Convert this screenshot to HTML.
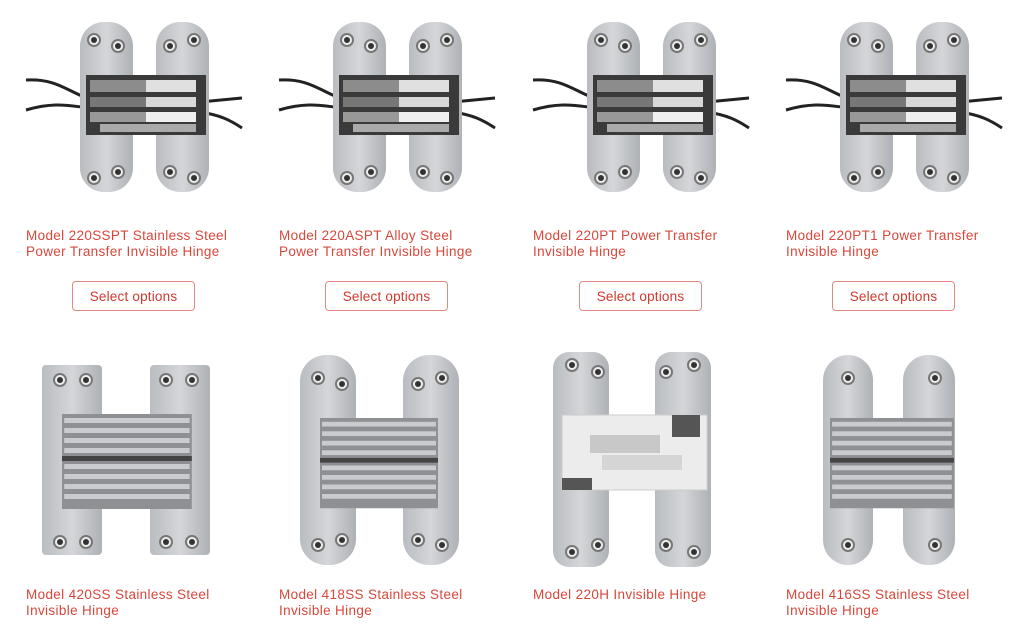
<!DOCTYPE html>
<html><head><meta charset="utf-8"><style>
body{margin:0;width:1024px;height:626px;background:#fff;position:relative;overflow:hidden;font-family:"Liberation Sans",sans-serif}
svg{position:absolute;left:0;top:0}
.t{position:absolute;color:#d8473b;font-size:13.5px;letter-spacing:0.35px;line-height:16px;width:250px}
.b{position:absolute;top:281px;width:123px;height:30px;border:1px solid #e08a82;border-radius:4px;color:#d0392d;font-size:13.5px;letter-spacing:0.2px;text-align:center;line-height:29px;box-sizing:border-box}
</style></head><body>
<svg width="1024" height="626">
<defs>
<linearGradient id="lf" x1="0" x2="1"><stop offset="0" stop-color="#b9bcc0"/><stop offset="0.5" stop-color="#d4d6d9"/><stop offset="1" stop-color="#aeb1b5"/></linearGradient>
<g id="hole"><circle r="6" fill="#eee" stroke="#777" stroke-width="2"/><circle r="3" fill="#333"/></g>
<g id="top">
 <path d="M26 80 C60 78 70 95 95 100 M26 110 C60 100 75 108 95 108 M200 102 L242 98 M200 112 C220 115 230 120 242 128" stroke="#222" stroke-width="3" fill="none"/>
 <rect x="80" y="22" width="53" height="170" rx="24" fill="url(#lf)"/>
 <rect x="156" y="22" width="53" height="170" rx="24" fill="url(#lf)"/>
 <use href="#hole" x="94" y="40"/><use href="#hole" x="118" y="46"/><use href="#hole" x="170" y="46"/><use href="#hole" x="194" y="40"/>
 <use href="#hole" x="94" y="178"/><use href="#hole" x="118" y="172"/><use href="#hole" x="170" y="172"/><use href="#hole" x="194" y="178"/>
 <rect x="86" y="75" width="120" height="60" fill="#3a3a3a"/>
 <rect x="90" y="80" width="56" height="12" fill="#8c8c8c"/><rect x="146" y="80" width="50" height="12" fill="#e0e0e0"/>
 <rect x="90" y="97" width="56" height="10" fill="#777"/><rect x="146" y="97" width="50" height="10" fill="#d8d8d8"/>
 <rect x="90" y="112" width="56" height="10" fill="#999"/><rect x="146" y="112" width="50" height="10" fill="#f0f0f0"/>
 <rect x="100" y="124" width="96" height="8" fill="#aaa"/>
</g>
<g id="mid" fill="#a7a9ac">
 <rect x="0" y="0" width="118" height="95" fill="#8e9094"/>
 <g fill="#c9cbce"><rect x="2" y="4" width="114" height="5"/><rect x="2" y="14" width="114" height="5"/><rect x="2" y="24" width="114" height="5"/><rect x="2" y="34" width="114" height="5"/><rect x="2" y="50" width="114" height="5"/><rect x="2" y="60" width="114" height="5"/><rect x="2" y="70" width="114" height="5"/><rect x="2" y="80" width="114" height="5"/></g>
 <rect x="0" y="42" width="118" height="5" fill="#444"/>
</g>
</defs>
<use href="#top"/>
<use href="#top" x="253"/>
<use href="#top" x="507"/>
<use href="#top" x="760"/>
<rect x="42" y="365" width="60" height="190" rx="4" fill="url(#lf)"/><rect x="150" y="365" width="60" height="190" rx="4" fill="url(#lf)"/>
<use href="#hole" x="60" y="380"/><use href="#hole" x="86" y="380"/><use href="#hole" x="166" y="380"/><use href="#hole" x="192" y="380"/>
<use href="#hole" x="60" y="542"/><use href="#hole" x="86" y="542"/><use href="#hole" x="166" y="542"/><use href="#hole" x="192" y="542"/>
<use href="#mid" transform="translate(62 414) scale(1.1 1)"/>
<rect x="300" y="355" width="56" height="210" rx="26" fill="url(#lf)"/><rect x="403" y="355" width="56" height="210" rx="26" fill="url(#lf)"/>
<use href="#hole" x="318" y="378"/><use href="#hole" x="342" y="384"/><use href="#hole" x="418" y="384"/><use href="#hole" x="442" y="378"/>
<use href="#hole" x="318" y="545"/><use href="#hole" x="342" y="540"/><use href="#hole" x="418" y="540"/><use href="#hole" x="442" y="545"/>
<use href="#mid" transform="translate(320 418) scale(1 0.95)"/>
<rect x="553" y="352" width="56" height="215" rx="16" fill="url(#lf)"/><rect x="655" y="352" width="56" height="215" rx="16" fill="url(#lf)"/>
<use href="#hole" x="572" y="365"/><use href="#hole" x="598" y="372"/><use href="#hole" x="666" y="372"/><use href="#hole" x="694" y="365"/>
<use href="#hole" x="572" y="552"/><use href="#hole" x="598" y="545"/><use href="#hole" x="666" y="545"/><use href="#hole" x="694" y="552"/>
<rect x="562" y="415" width="145" height="75" fill="#ececec" stroke="#ccc"/>
<rect x="590" y="435" width="70" height="18" fill="#c8c8c8"/><rect x="602" y="455" width="80" height="15" fill="#d5d5d5"/>
<rect x="672" y="415" width="28" height="22" fill="#555"/><rect x="562" y="478" width="30" height="12" fill="#555"/>
<rect x="823" y="355" width="50" height="210" rx="25" fill="url(#lf)"/><rect x="903" y="355" width="52" height="210" rx="25" fill="url(#lf)"/>
<use href="#hole" x="848" y="378"/><use href="#hole" x="935" y="378"/><use href="#hole" x="848" y="545"/><use href="#hole" x="935" y="545"/>
<use href="#mid" transform="translate(830 418) scale(1.05 0.95)"/>
</svg>
<div class="t" style="left:26px;top:228px">Model 220SSPT Stainless Steel<br>Power Transfer Invisible Hinge</div>
<div class="t" style="left:279px;top:228px">Model 220ASPT Alloy Steel<br>Power Transfer Invisible Hinge</div>
<div class="t" style="left:533px;top:228px">Model 220PT Power Transfer<br>Invisible Hinge</div>
<div class="t" style="left:786px;top:228px">Model 220PT1 Power Transfer<br>Invisible Hinge</div>
<div class="b" style="left:72px">Select options</div>
<div class="b" style="left:325px">Select options</div>
<div class="b" style="left:579px">Select options</div>
<div class="b" style="left:832px">Select options</div>
<div class="t" style="left:26px;top:587px">Model 420SS Stainless Steel<br>Invisible Hinge</div>
<div class="t" style="left:279px;top:587px">Model 418SS Stainless Steel<br>Invisible Hinge</div>
<div class="t" style="left:533px;top:587px">Model 220H Invisible Hinge</div>
<div class="t" style="left:786px;top:587px">Model 416SS Stainless Steel<br>Invisible Hinge</div>
</body></html>
